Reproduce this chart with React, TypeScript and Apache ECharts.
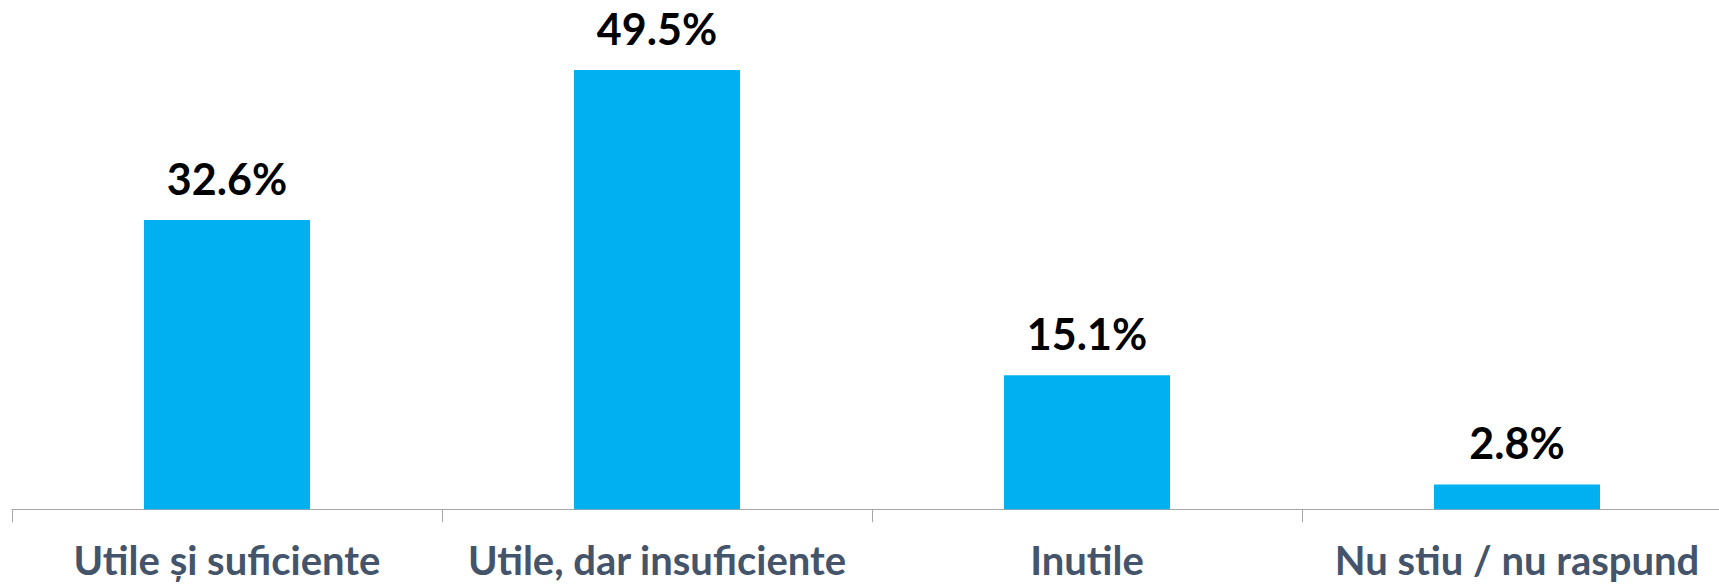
import React, { useEffect, useRef } from "react";
import * as echarts from "echarts";

const categories = ["Utile și suficiente", "Utile, dar insuficiente", "Inutile", "Nu stiu / nu raspund"];
const values = [32.6, 49.5, 15.1, 2.8];

export default function App() {
  const ref = useRef<HTMLDivElement>(null);
  useEffect(() => {
    document.body.style.margin = "0";
    const chart = echarts.init(ref.current!, null, { renderer: "svg" });
    chart.setOption({
      animation: false,
      backgroundColor: "#ffffff",
      grid: { left: 12, right: -13, top: 65.5, height: 443.75, outerBoundsMode: "none", containLabel: false },
      xAxis: {
        type: "category",
        data: categories,
        axisLine: { lineStyle: { color: "#A6A6A6", width: 1 } },
        axisTick: { show: true, length: 13, lineStyle: { color: "#A6A6A6" } },
        axisLabel: {
          interval: 0,
          margin: 31,
          color: "#44546A",
          fontFamily: "Lato",
          fontWeight: "bold",
          fontSize: 40,
        },
      },
      yAxis: {
        type: "value",
        min: 0,
        max: 50,
        show: false,
        splitLine: { show: false },
      },
      series: [
        {
          type: "bar",
          data: values,
          barWidth: 166,
          itemStyle: { color: "#00B0F0" },
          label: {
            show: true,
            position: "top",
            distance: 20,
            formatter: (p: any) => p.value.toFixed(1) + "%",
            color: "#000000",
            fontFamily: "Lato",
            fontWeight: "bold",
            fontSize: 43,
          },
        },
      ],
    });
    return () => chart.dispose();
  }, []);
  return <div ref={ref} style={{ width: 1719, height: 585 }} />;
}
